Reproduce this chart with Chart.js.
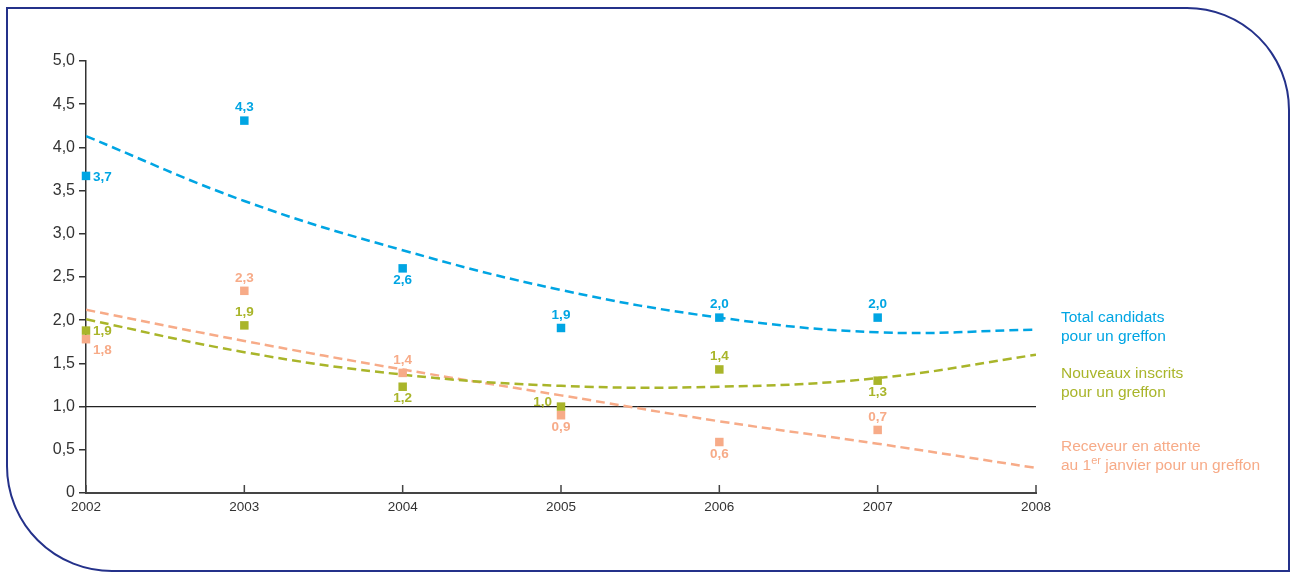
<!DOCTYPE html>
<html lang="fr">
<head>
<meta charset="utf-8">
<script src="https://cdn.jsdelivr.net/npm/chart.js@4.4.0/dist/chart.umd.min.js"></script>
<style>
  body { margin: 0; background: #fff; font-family: "Liberation Sans", Arial, sans-serif; }
  #cadre { position: absolute; left: 6px; top: 7px; width: 1284px; height: 565px; box-sizing: border-box;
           border: 2px solid #24318a; border-radius: 0 103px 0 106px; }
  #graph { position: absolute; left: 0; top: 0; }
  .leg { position: absolute; left: 1061px; font-size: 15.5px; line-height: 18.5px; white-space: nowrap; }
  .leg sup { font-size: 11px; line-height: 0; vertical-align: 6px; }
</style>
</head>
<body>
<div id="cadre"></div>
<canvas id="graph" width="1291" height="572"></canvas>
<div class="leg" style="top:308px;color:#00a5e3">Total candidats<br>pour un greffon</div>
<div class="leg" style="top:364px;color:#a9b52a">Nouveaux inscrits<br>pour un greffon</div>
<div class="leg" style="top:437px;color:#f7ab88">Receveur en attente<br>au 1<sup>er</sup> janvier pour un greffon</div>
<script>
// annees
const annees = [2002, 2003, 2004, 2005, 2006, 2007];
const anneesTendance = [2002, 2003, 2004, 2005, 2006, 2007, 2008];
// points
const totalCandidats = [3.67, 4.31, 2.60, 1.91, 2.03, 2.03];
const nouveauxInscrits = [1.88, 1.94, 1.23, 1.00, 1.43, 1.30];
const receveurAttente = [1.78, 2.34, 1.39, 0.90, 0.59, 0.73];
// courbes de tendance
const tendTotal = [4.13, 3.38, 2.81, 2.35, 2.03, 1.86, 1.89];
const tendNouveaux = [2.01, 1.63, 1.37, 1.24, 1.23, 1.33, 1.60];
const tendReceveur = [2.12, 1.76, 1.43, 1.13, 0.83, 0.57, 0.29];
// seuil
const seuil = [1, 1];
const seuilAnnees = [2002, 2008];
// graduations axe y
const yMin = 0, yMax = 5, yPas = 0.5;

// placement des etiquettes
const posTotal = ["droite", "haut", "bas", "haut", "haut", "haut"];
const posNouveaux = ["droite", "haut", "bas", "gauche", "haut", "bas"];
const posReceveur = ["droite-bas", "haut", "haut", "bas", "bas", "haut"];

const bleu = "#00a5e3";
const vert = "#a9b52a";
const saumon = "#f7ab88";

function points(xs, ys) {
  return ys.map((v, i) => ({ x: xs[i], y: v }));
}
function virgule(v) {
  return v.toFixed(1).replace(".", ",");
}

const etiquettes = {
  id: "etiquettes",
  afterDatasetsDraw(chart) {
    const ctx = chart.ctx;
    ctx.save();
    ctx.font = 'bold 13.5px "Liberation Sans", Arial, sans-serif';
    chart.data.datasets.forEach((ds, i) => {
      if (!ds.positions) return;
      const meta = chart.getDatasetMeta(i);
      meta.data.forEach((pt, j) => {
        let x = pt.x, y = pt.y;
        const p = ds.positions[j];
        ctx.textAlign = "center";
        ctx.textBaseline = "middle";
        if (p === "haut") y -= 13;
        else if (p === "bas") y += 12;
        else if (p === "droite") { x += 7; y += 1; ctx.textAlign = "left"; }
        else if (p === "droite-bas") { x += 7; y += 11; ctx.textAlign = "left"; }
        else if (p === "gauche") { x -= 9; y -= 4; ctx.textAlign = "right"; }
        ctx.fillStyle = ds.pointBackgroundColor;
        ctx.fillText(virgule(ds.data[j].y), x, y);
      });
    });
    ctx.restore();
  }
};

// petites graduations de l'axe x, vers l'interieur
const graduationsX = {
  id: "graduationsX",
  afterDraw(chart) {
    const sx = chart.scales.x, ctx = chart.ctx, bas = chart.chartArea.bottom;
    ctx.save();
    ctx.strokeStyle = "#444";
    ctx.lineWidth = 1.5;
    sx.ticks.forEach(t => {
      const px = sx.getPixelForValue(t.value);
      ctx.beginPath();
      ctx.moveTo(px, bas);
      ctx.lineTo(px, bas - 8);
      ctx.stroke();
    });
    ctx.restore();
  }
};

function tendance(data, couleur) {
  return {
    type: "line",
    data: points(anneesTendance, data),
    borderColor: couleur,
    borderWidth: 2.5,
    borderDash: [9, 5],
    pointRadius: 0,
    tension: 0.4,
    fill: false,
    order: 3
  };
}
function nuage(data, couleur, positions) {
  return {
    type: "scatter",
    data: points(annees, data),
    pointStyle: "rect",
    pointRadius: 6,
    pointBackgroundColor: couleur,
    pointBorderWidth: 0,
    borderColor: couleur,
    positions: positions,
    clip: false,
    order: 1
  };
}

new Chart(document.getElementById("graph"), {
  data: {
    datasets: [
      {
        type: "line",
        data: points(seuilAnnees, seuil),
        borderColor: "#222",
        borderWidth: 1.2,
        pointRadius: 0,
        order: 4
      },
      tendance(tendTotal, bleu),
      tendance(tendNouveaux, vert),
      tendance(tendReceveur, saumon),
      nuage(totalCandidats, bleu, posTotal),
      nuage(nouveauxInscrits, vert, posNouveaux),
      nuage(receveurAttente, saumon, posReceveur)
    ]
  },
  options: {
    responsive: false,
    animation: false,
    layout: { padding: { left: 0, top: 61, right: 255, bottom: 0 } },
    plugins: { legend: { display: false }, tooltip: { enabled: false } },
    scales: {
      x: {
        type: "linear",
        min: 2002,
        max: 2008,
        grid: { display: false, drawTicks: false },
        border: { display: true, color: "#444", width: 2 },
        ticks: {
          stepSize: 1,
          padding: 6,
          color: "#333",
          font: { family: '"Liberation Sans", Arial, sans-serif', size: 13.5 },
          maxRotation: 0,
          callback: v => String(v)
        },
        afterFit: s => { s.height = 79; }
      },
      y: {
        min: yMin,
        max: yMax,
        grid: { drawOnChartArea: false, tickLength: 7, color: "#333", lineWidth: 1.5 },
        border: { display: true, color: "#333", width: 1.5 },
        ticks: {
          stepSize: yPas,
          padding: 4,
          color: "#333",
          font: { family: '"Liberation Sans", Arial, sans-serif', size: 16 },
          callback: v => (v === 0 ? "0" : virgule(v))
        },
        afterFit: s => { s.width = 86; }
      }
    }
  },
  plugins: [etiquettes, graduationsX]
});
</script>
</body>
</html>
